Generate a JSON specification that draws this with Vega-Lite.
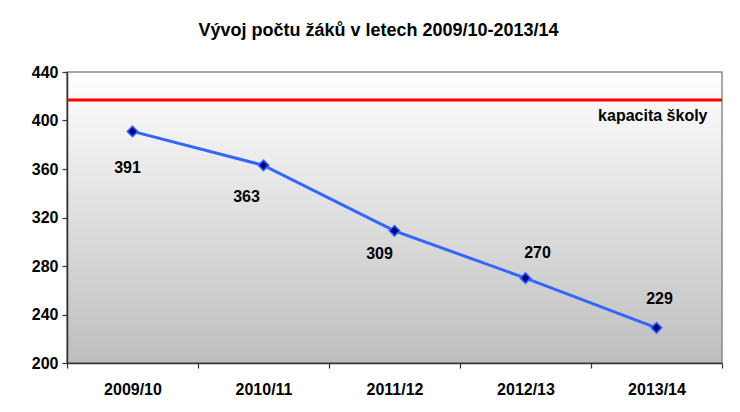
{
  "$schema": "https://vega.github.io/schema/vega-lite/v6.json",
  "width": 655,
  "height": 291,
  "autosize": {"type": "none"},
  "padding": {"left": 67, "top": 72, "right": 18, "bottom": 49},
  "background": "white",
  "title": {
    "text": "Vývoj počtu žáků v letech 2009/10-2013/14",
    "font": "Liberation Sans",
    "fontSize": 18,
    "fontWeight": "bold",
    "color": "#000000",
    "anchor": "middle",
    "dx": -16,
    "offset": 24
  },
  "config": {
    "view": {
      "stroke": "#8a8a8a",
      "strokeWidth": 1.5,
      "fill": {
        "gradient": "linear",
        "x1": 0, "y1": 0, "x2": 0, "y2": 1,
        "stops": [
          {"offset": 0, "color": "#ffffff"},
          {"offset": 1, "color": "#bebebe"}
        ]
      }
    },
    "axis": {
      "labelFont": "Liberation Sans",
      "labelFontSize": 16,
      "labelFontWeight": "bold",
      "labelColor": "#000000",
      "domainColor": "#333333",
      "domainWidth": 1.5,
      "tickColor": "#333333",
      "tickWidth": 1.2,
      "tickSize": 5,
      "grid": false,
      "title": null
    }
  },
  "datasets": {
    "pupils": [
      {"year": "2009/10", "count": 391},
      {"year": "2010/11", "count": 363},
      {"year": "2011/12", "count": 309},
      {"year": "2012/13", "count": 270},
      {"year": "2013/14", "count": 229}
    ],
    "capacity": [
      {"year": "2013/14", "capacity": 417, "label": "kapacita školy"}
    ]
  },
  "data": {"name": "pupils"},
  "encoding": {
    "x": {
      "field": "year",
      "type": "nominal",
      "sort": ["2009/10", "2010/11", "2011/12", "2012/13", "2013/14"],
      "scale": {"paddingInner": 0, "paddingOuter": 0},
      "axis": {"labelAngle": 0, "labelPadding": 13, "bandPosition": 0, "tickBand": "extent"}
    },
    "y": {
      "field": "count",
      "type": "quantitative",
      "scale": {"domain": [200, 440], "nice": false},
      "axis": {"values": [200, 240, 280, 320, 360, 400, 440], "labelPadding": 4}
    }
  },
  "layer": [
    {
      "mark": {"type": "rule", "color": "#ff0000", "strokeWidth": 3},
      "data": {"name": "capacity"},
      "encoding": {
        "x": null,
        "y": {"field": "capacity", "type": "quantitative"}
      }
    },
    {
      "mark": {"type": "text", "align": "right", "baseline": "middle", "dx": 51, "dy": 16, "font": "Liberation Sans", "fontSize": 16, "fontWeight": "bold", "color": "#000000"},
      "data": {"name": "capacity"},
      "encoding": {
        "y": {"field": "capacity", "type": "quantitative"},
        "text": {"field": "label"}
      }
    },
    {
      "mark": {"type": "line", "color": "#3366ff", "strokeWidth": 3}
    },
    {
      "mark": {"type": "point", "shape": "diamond", "filled": true, "fill": "#000080", "stroke": "#3366ff", "strokeWidth": 1.5, "size": 110, "opacity": 1}
    },
    {
      "transform": [{"filter": "datum.year == '2009/10'"}],
      "mark": {"type": "text", "dx": -5, "dy": 37, "baseline": "middle", "font": "Liberation Sans", "fontSize": 16, "fontWeight": "bold", "color": "#000000"},
      "encoding": {"text": {"field": "count"}}
    },
    {
      "transform": [{"filter": "datum.year == '2010/11'"}],
      "mark": {"type": "text", "dx": -17, "dy": 32, "baseline": "middle", "font": "Liberation Sans", "fontSize": 16, "fontWeight": "bold", "color": "#000000"},
      "encoding": {"text": {"field": "count"}}
    },
    {
      "transform": [{"filter": "datum.year == '2011/12'"}],
      "mark": {"type": "text", "dx": -15, "dy": 23, "baseline": "middle", "font": "Liberation Sans", "fontSize": 16, "fontWeight": "bold", "color": "#000000"},
      "encoding": {"text": {"field": "count"}}
    },
    {
      "transform": [{"filter": "datum.year == '2012/13'"}],
      "mark": {"type": "text", "dx": 12, "dy": -25, "baseline": "middle", "font": "Liberation Sans", "fontSize": 16, "fontWeight": "bold", "color": "#000000"},
      "encoding": {"text": {"field": "count"}}
    },
    {
      "transform": [{"filter": "datum.year == '2013/14'"}],
      "mark": {"type": "text", "dx": 3, "dy": -29, "baseline": "middle", "font": "Liberation Sans", "fontSize": 16, "fontWeight": "bold", "color": "#000000"},
      "encoding": {"text": {"field": "count"}}
    }
  ]
}
